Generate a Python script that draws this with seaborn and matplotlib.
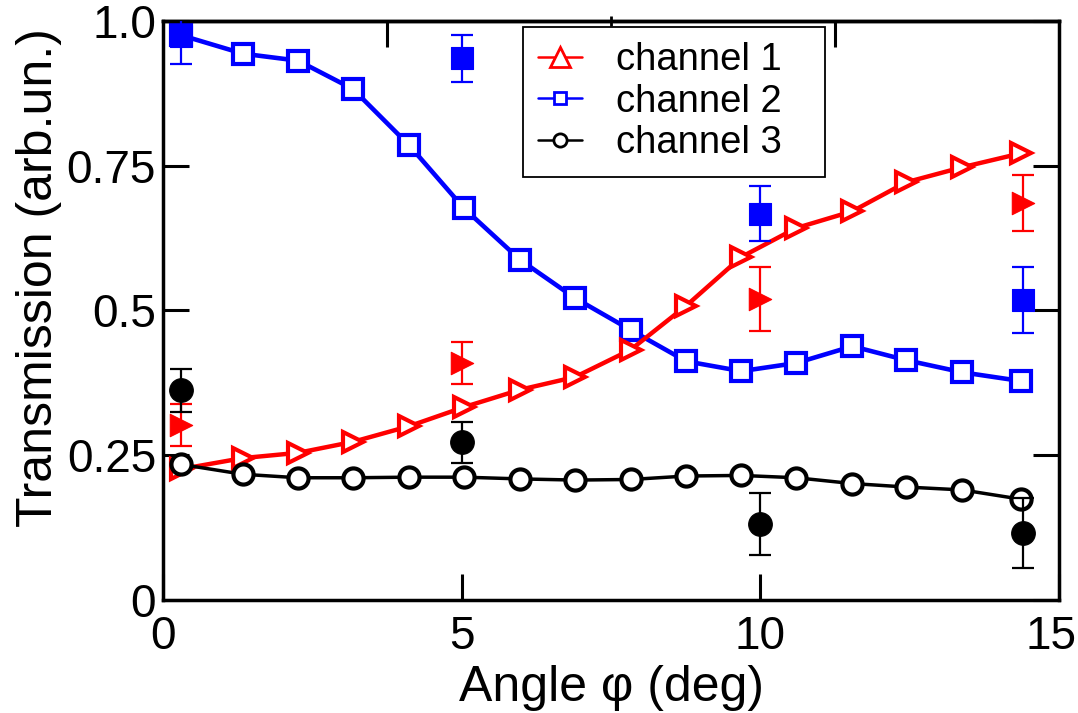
import matplotlib
matplotlib.use("Agg")
import matplotlib.pyplot as plt
import matplotlib.transforms as mtransforms
import seaborn as sns
from matplotlib.lines import Line2D
from matplotlib.ticker import FixedLocator, NullLocator

# Simulated transmission of the three output channels vs. angle
angle = [0.30, 1.34, 2.26, 3.18, 4.12, 5.04, 5.98, 6.90,
         7.83, 8.76, 9.68, 10.60, 11.54, 12.44, 13.38, 14.36]
channel_1 = [0.226, 0.245, 0.254, 0.273, 0.300, 0.333, 0.363, 0.385,
             0.432, 0.508, 0.592, 0.642, 0.671, 0.721, 0.747, 0.771]
channel_2 = [0.975, 0.943, 0.931, 0.882, 0.785, 0.676, 0.587, 0.521,
             0.466, 0.412, 0.395, 0.409, 0.438, 0.414, 0.393, 0.378]
channel_3 = [0.234, 0.217, 0.211, 0.211, 0.212, 0.212, 0.209, 0.207,
             0.208, 0.214, 0.215, 0.211, 0.201, 0.195, 0.190, 0.174]

# Measured transmission with uncertainties
angle_exp = [0.3, 5.0, 10.0, 14.4]
channel_1_exp = [0.302, 0.409, 0.520, 0.685]
channel_1_err = [0.036, 0.036, 0.055, 0.048]
channel_2_exp = [0.974, 0.935, 0.667, 0.518]
channel_2_err = [0.048, 0.041, 0.048, 0.057]
channel_3_exp = [0.362, 0.272, 0.131, 0.116]
channel_3_err = [0.037, 0.035, 0.054, 0.060]

series_labels = ["channel 1", "channel 2", "channel 3"]
x_ticks = [0, 5, 10, 15]
x_tick_labels = ["0", "5", "10", "15"]
y_ticks = [0, 0.25, 0.5, 0.75, 1.0]
y_tick_labels = ["0", "0.25", "0.5", "0.75", "1.0"]
top_ticks = [3.75, 11.25]
top_minor_ticks = [7.5]

sns.set_style("ticks", {"axes.edgecolor": "black", "xtick.color": "black",
                        "ytick.color": "black", "text.color": "black",
                        "axes.labelcolor": "black"})
plt.rcParams["font.family"] = ["Liberation Sans", "DejaVu Sans"]

fig = plt.figure(figsize=(10.78, 7.13), dpi=100)
ax = fig.add_axes([0.1512, 0.1585, 0.8312, 0.8125])

open_style = dict(markerfacecolor="white", markersize=14.5,
                  markeredgewidth=3.0, sort=False, legend=False)

sns.lineplot(x=angle, y=channel_2, ax=ax, color="blue", linewidth=3.3,
             marker="s", markeredgecolor="blue", zorder=2, **open_style)
sns.lineplot(x=angle, y=channel_1, ax=ax, color="red", linewidth=3.2,
             marker=">", markeredgecolor="red", zorder=3, **open_style)
sns.lineplot(x=angle, y=channel_3, ax=ax, color="black", linewidth=2.5,
             marker="o", markeredgecolor="black", zorder=4, **open_style)

measured = [
    (channel_1_exp, channel_1_err, "red", ">", 260),
    (channel_2_exp, channel_2_err, "blue", "s", 260),
    (channel_3_exp, channel_3_err, "black", "o", 290),
]
for values, errors, color, marker, size in measured:
    ax.errorbar(angle_exp, values, yerr=errors, fmt="none", ecolor=color,
                elinewidth=1.6, capsize=8, capthick=1.6, zorder=5)
    sns.scatterplot(x=angle_exp, y=values, ax=ax, color=color, marker=marker,
                    s=size, edgecolor=color, linewidth=0.8, zorder=6,
                    legend=False)

ax.set_xlim(0, 15)
ax.set_ylim(0, 1.0)
ax.set_xticks(x_ticks, x_tick_labels)
ax.set_yticks(y_ticks, y_tick_labels)
ax.xaxis.set_minor_locator(NullLocator())
ax.yaxis.set_minor_locator(NullLocator())
ax.tick_params(axis="both", which="major", direction="in", length=19,
               width=2.2, labelsize=33)
ax.tick_params(axis="y", right=True, left=True, pad=5)
ax.tick_params(axis="x", top=False, pad=11)

# keep the last x tick label inside the figure edge
last_label = ax.get_xticklabels()[-1]
last_label.set_transform(last_label.get_transform() +
                         mtransforms.ScaledTranslation(-8 / 100, 0,
                                                       fig.dpi_scale_trans))

for spine in ax.spines.values():
    spine.set_linewidth(2.5)
    spine.set_color("black")

top = ax.secondary_xaxis("top")
top.xaxis.set_major_locator(FixedLocator(top_ticks))
top.xaxis.set_minor_locator(FixedLocator(top_minor_ticks))
top.tick_params(which="major", direction="in", length=19, width=2.2,
                labeltop=False)
top.tick_params(which="minor", direction="inout", length=7, width=2.0)
top.spines["top"].set_linewidth(2.5)

ax.set_xlabel("Angle φ (deg)", fontsize=36)
ax.set_ylabel("Transmission (arb.un.)", fontsize=36)
ax.xaxis.set_label_coords(0.5, -0.112)
ax.yaxis.set_label_coords(-0.113, 0.556)

handles = [
    Line2D([], [], color="red", linewidth=1.8, marker="^", markersize=14,
           markerfacecolor="white", markeredgecolor="red", markeredgewidth=2.0),
    Line2D([], [], color="blue", linewidth=1.8, marker="s", markersize=8.5,
           markerfacecolor="white", markeredgecolor="blue", markeredgewidth=2.0),
    Line2D([], [], color="black", linewidth=1.8, marker="o", markersize=9.5,
           markerfacecolor="white", markeredgecolor="black", markeredgewidth=2.0),
]
leg = ax.legend(handles, series_labels, loc="upper left",
                bbox_to_anchor=(0.4015, 0.0, 0.3374, 0.9897), mode="expand",
                borderaxespad=0, frameon=True, fancybox=False,
                edgecolor="black", framealpha=1, fontsize=27.5,
                handlelength=1.15, handletextpad=0.9, labelspacing=0.15,
                borderpad=0.4)
leg.get_frame().set_linewidth(1.3)
leg.set_zorder(10)

fig.savefig("out.png", dpi=100)
